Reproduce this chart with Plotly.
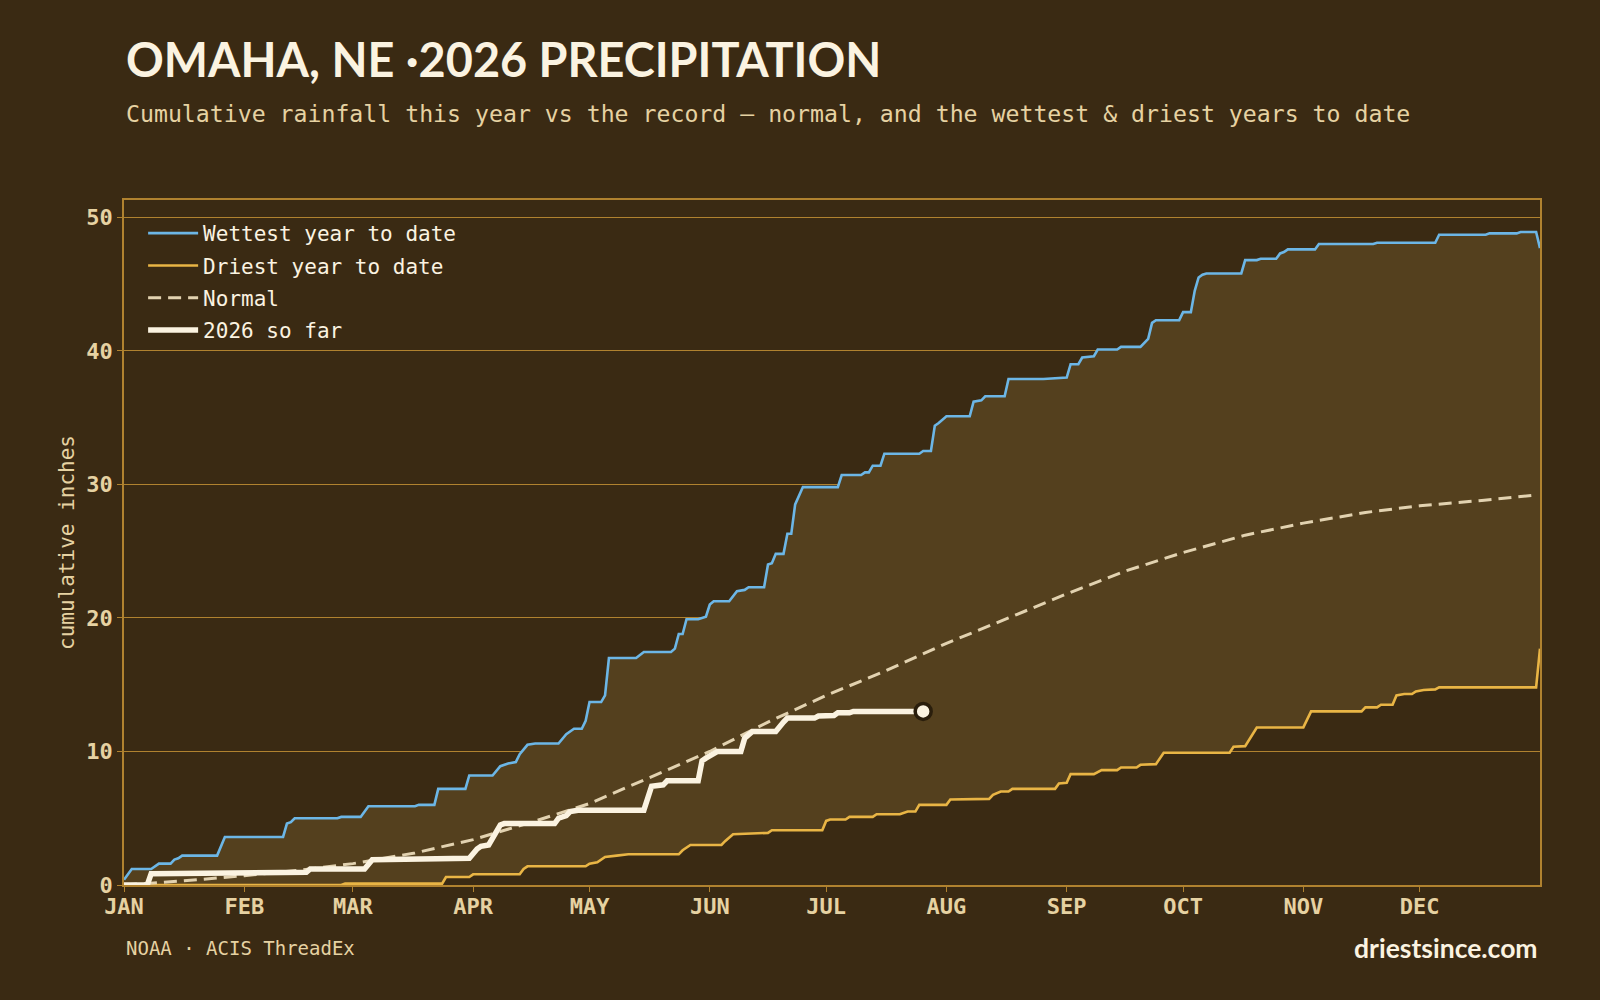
import pandas as pd
import plotly.graph_objects as go

YEAR_START = pd.Timestamp("2026-01-01")

# ---- data (day-of-year offset, cumulative inches) ----
wet_days = [0, 2, 7, 8, 9, 12, 13, 14, 15, 24, 25, 26, 41, 42, 43, 44, 55, 56, 61, 63, 75, 76, 80, 81, 88, 89,
            95, 97, 99, 101, 102, 104, 106, 112, 114, 116, 118, 119, 120, 123, 124, 125, 132, 134, 141, 142,
            143, 144, 145, 148, 150, 151, 152, 156, 158, 160, 161, 165, 166, 167, 168, 170, 171, 172, 173,
            175, 184, 185, 190, 191, 192, 193, 195, 196, 205, 206, 208, 209, 210, 212, 218, 219, 221, 222,
            227, 228, 237, 243, 244, 246, 247, 250, 251, 256, 257, 262, 264, 265, 266, 272, 273, 275, 276,
            277, 278, 279, 288, 289, 292, 293, 297, 298, 299, 300, 307, 308, 322, 323, 338, 339, 351, 352,
            359, 360, 364, 365]
wet_vals = [0.4, 1.2, 1.2, 1.4, 1.6, 1.6, 1.9, 2.0, 2.2, 2.2, 2.9, 3.6, 3.6, 4.6, 4.7, 5.0, 5.0, 5.1, 5.1, 5.9,
            5.9, 6.0, 6.0, 7.2, 7.2, 8.2, 8.2, 8.9, 9.1, 9.2, 9.8, 10.5, 10.6, 10.6, 11.3, 11.7, 11.7, 12.3,
            13.7, 13.7, 14.2, 17.0, 17.0, 17.45, 17.45, 17.7, 18.8, 18.8, 19.9, 19.9, 20.1, 21.0, 21.25, 21.25,
            22.0, 22.1, 22.3, 22.3, 24.0, 24.1, 24.8, 24.8, 26.3, 26.3, 28.5, 29.8, 29.8, 30.7, 30.7, 30.9,
            30.9, 31.4, 31.4, 32.3, 32.3, 32.5, 32.5, 34.4, 34.6, 35.1, 35.1, 36.2, 36.3, 36.6, 36.6, 37.9,
            37.9, 38.0, 39.0, 39.0, 39.5, 39.6, 40.1, 40.1, 40.3, 40.3, 40.9, 42.1, 42.3, 42.3, 42.9, 42.9,
            44.5, 45.5, 45.7, 45.8, 45.8, 46.8, 46.8, 46.9, 46.9, 47.3, 47.4, 47.6, 47.6, 48.0, 48.0, 48.1,
            48.1, 48.7, 48.7, 48.8, 48.8, 48.9, 48.9, 47.7]

dry_days = [0, 56, 57, 82, 83, 89, 90, 102, 103, 104, 119, 120, 122, 124, 127, 130, 143, 144, 146, 154, 155,
            157, 166, 167, 180, 181, 182, 186, 187, 193, 194, 200, 202, 204, 205, 212, 213, 223, 224, 226,
            228, 229, 240, 241, 243, 244, 250, 252, 256, 257, 261, 262, 266, 268, 285, 286, 289, 292, 304,
            306, 319, 320, 323, 324, 327, 328, 330, 332, 333, 335, 338, 339, 364, 365]
dry_vals = [0.0, 0.0, 0.1, 0.1, 0.6, 0.6, 0.8, 0.8, 1.2, 1.4, 1.4, 1.6, 1.7, 2.1, 2.2, 2.3, 2.3, 2.6, 3.0, 3.0,
            3.3, 3.8, 3.9, 4.1, 4.1, 4.8, 4.9, 4.9, 5.1, 5.1, 5.3, 5.3, 5.5, 5.5, 6.0, 6.0, 6.4, 6.45, 6.75,
            7.0, 7.0, 7.2, 7.2, 7.6, 7.65, 8.3, 8.3, 8.6, 8.6, 8.8, 8.8, 9.0, 9.05, 9.9, 9.9, 10.35, 10.4,
            11.8, 11.8, 13.0, 13.0, 13.3, 13.3, 13.5, 13.5, 14.2, 14.3, 14.3, 14.5, 14.6, 14.65, 14.8, 14.8,
            17.7]

normal_days = [0, 15, 31, 45, 59, 75, 90, 105, 120, 135, 151, 166, 181, 196, 212, 228, 243, 258, 273, 289,
               304, 320, 334, 350, 364]
normal_vals = [0.0, 0.3, 0.7, 1.1, 1.6, 2.4, 3.4, 4.7, 6.1, 8.0, 10.0, 12.2, 14.2, 16.0, 18.1, 20.0, 21.8,
               23.5, 24.9, 26.2, 27.1, 27.9, 28.4, 28.8, 29.2]

cur_days = [0, 6, 7, 22, 23, 47, 48, 62, 64, 70, 72, 89, 91, 92, 94, 95, 97, 98, 111, 112, 114, 115, 117, 134,
            135, 136, 139, 140, 148, 149, 150, 152, 153, 159, 160, 162, 168, 170, 171, 178, 179, 183, 184, 187,
            188, 206]
cur_vals = [0.0, 0.0, 0.85, 0.85, 0.95, 0.95, 1.2, 1.2, 1.9, 1.9, 2.0, 2.0, 2.7, 2.9, 3.0, 3.5, 4.5, 4.6, 4.6,
            5.0, 5.2, 5.5, 5.6, 5.6, 6.5, 7.4, 7.5, 7.8, 7.8, 9.3, 9.5, 9.9, 10.0, 10.0, 11.0, 11.5, 11.5, 12.2,
            12.5, 12.5, 12.65, 12.7, 12.9, 12.9, 13.0, 13.0]

month_labels = ["JAN", "FEB", "MAR", "APR", "MAY", "JUN", "JUL", "AUG", "SEP", "OCT", "NOV", "DEC"]
y_ticks = [0, 10, 20, 30, 40, 50]


def to_dates(days):
    return YEAR_START + pd.to_timedelta(days, unit="D")


month_ticks = pd.date_range("2026-01-01", periods=12, freq="MS")

BG = "#3a2a13"
BAND = "#54401e"
GRID = "#b0822f"
BEIGE = "#e6d2a2"
CREAM = "#fbf3e1"
BLUE = "#6cb6e6"
GOLD = "#e9b545"
NORMAL = "#e2d2b0"
MONO = "DejaVu Sans Mono"

fig = go.Figure()

fig.add_trace(go.Scatter(
    x=to_dates(dry_days), y=dry_vals, name="Driest year to date", mode="lines",
    line=dict(color=GOLD, width=2.6), legendrank=2, legendgroup="dry", hoverinfo="skip"))
fig.add_trace(go.Scatter(
    x=to_dates(wet_days), y=wet_vals, mode="lines", showlegend=False,
    line=dict(color=BLUE, width=0), fill="tonexty", fillcolor=BAND, hoverinfo="skip"))
fig.add_trace(go.Scatter(
    x=to_dates(wet_days), y=wet_vals, name="Wettest year to date", mode="lines",
    line=dict(color=BLUE, width=2.6), legendrank=1, legendgroup="wet", hoverinfo="skip"))
fig.add_trace(go.Scatter(
    x=to_dates(normal_days), y=normal_vals, name="Normal", mode="lines",
    line=dict(color=NORMAL, width=3, dash="13px,7px"), legendrank=3, legendgroup="normal",
    hoverinfo="skip"))
fig.add_trace(go.Scatter(
    x=to_dates(cur_days), y=cur_vals, name="2026 so far", mode="lines",
    line=dict(color=CREAM, width=5.5), legendrank=4, legendgroup="cur", hoverinfo="skip"))
fig.add_trace(go.Scatter(
    x=to_dates(cur_days[-1:]), y=cur_vals[-1:], mode="markers", showlegend=False,
    marker=dict(size=16, color=CREAM, line=dict(color="#2a1e0c", width=3.5)), hoverinfo="skip"))

fig.update_layout(
    width=1600, height=1000,
    paper_bgcolor=BG, plot_bgcolor=BG,
    margin=dict(l=124, r=60, t=200, b=115),
    showlegend=True,
    legend=dict(x=0.0135, y=0.981, xanchor="left", yanchor="top", bgcolor="rgba(0,0,0,0)",
                font=dict(family=MONO, size=21, color=CREAM), traceorder="grouped", tracegroupgap=2,
                itemwidth=50),
    xaxis=dict(
        range=["2026-01-01", "2027-01-01"], tickvals=month_ticks, ticktext=month_labels,
        tickfont=dict(family=MONO, size=22, color=BEIGE, weight="bold"),
        ticks="outside", ticklen=5, tickcolor=GRID, tickwidth=1, ticklabelstandoff=-4,
        showgrid=False, showline=True, linecolor=GRID, linewidth=1.5, mirror=True, zeroline=False),
    yaxis=dict(
        range=[0, 51.3], tickvals=y_ticks,
        tickfont=dict(family=MONO, size=22, color=BEIGE, weight="bold"),
        ticks="outside", ticklen=5, tickcolor=GRID, tickwidth=1,
        showgrid=True, gridcolor=GRID, gridwidth=1, showline=True, linecolor=GRID, linewidth=1.5,
        mirror=True, zeroline=False,
        title=dict(text="cumulative inches", font=dict(family=MONO, size=21, color=BEIGE), standoff=6)),
)

fig.add_annotation(text="OMAHA, NE ·2026 PRECIPITATION", xref="paper", yref="paper", x=0, y=1.206,
                   xanchor="left", yanchor="middle", showarrow=False,
                   font=dict(family="Lato", size=46.8, color=CREAM, weight="bold"))
fig.add_annotation(text="Cumulative rainfall this year vs the record — normal, and the wettest & driest years to date",
                   xref="paper", yref="paper", x=0, y=1.127, xanchor="left", yanchor="middle", showarrow=False,
                   font=dict(family=MONO, size=23.2, color=BEIGE))
fig.add_annotation(text="NOAA · ACIS ThreadEx", xref="paper", yref="paper", x=0, y=-0.0925,
                   xanchor="left", yanchor="middle", showarrow=False,
                   font=dict(family=MONO, size=19, color=BEIGE))
fig.add_annotation(text="driestsince.com", xref="paper", yref="paper", x=1, y=-0.0925,
                   xanchor="right", yanchor="middle", showarrow=False,
                   font=dict(family="Lato", size=26.5, color=CREAM, weight="bold"))

fig.write_html("out.html")
